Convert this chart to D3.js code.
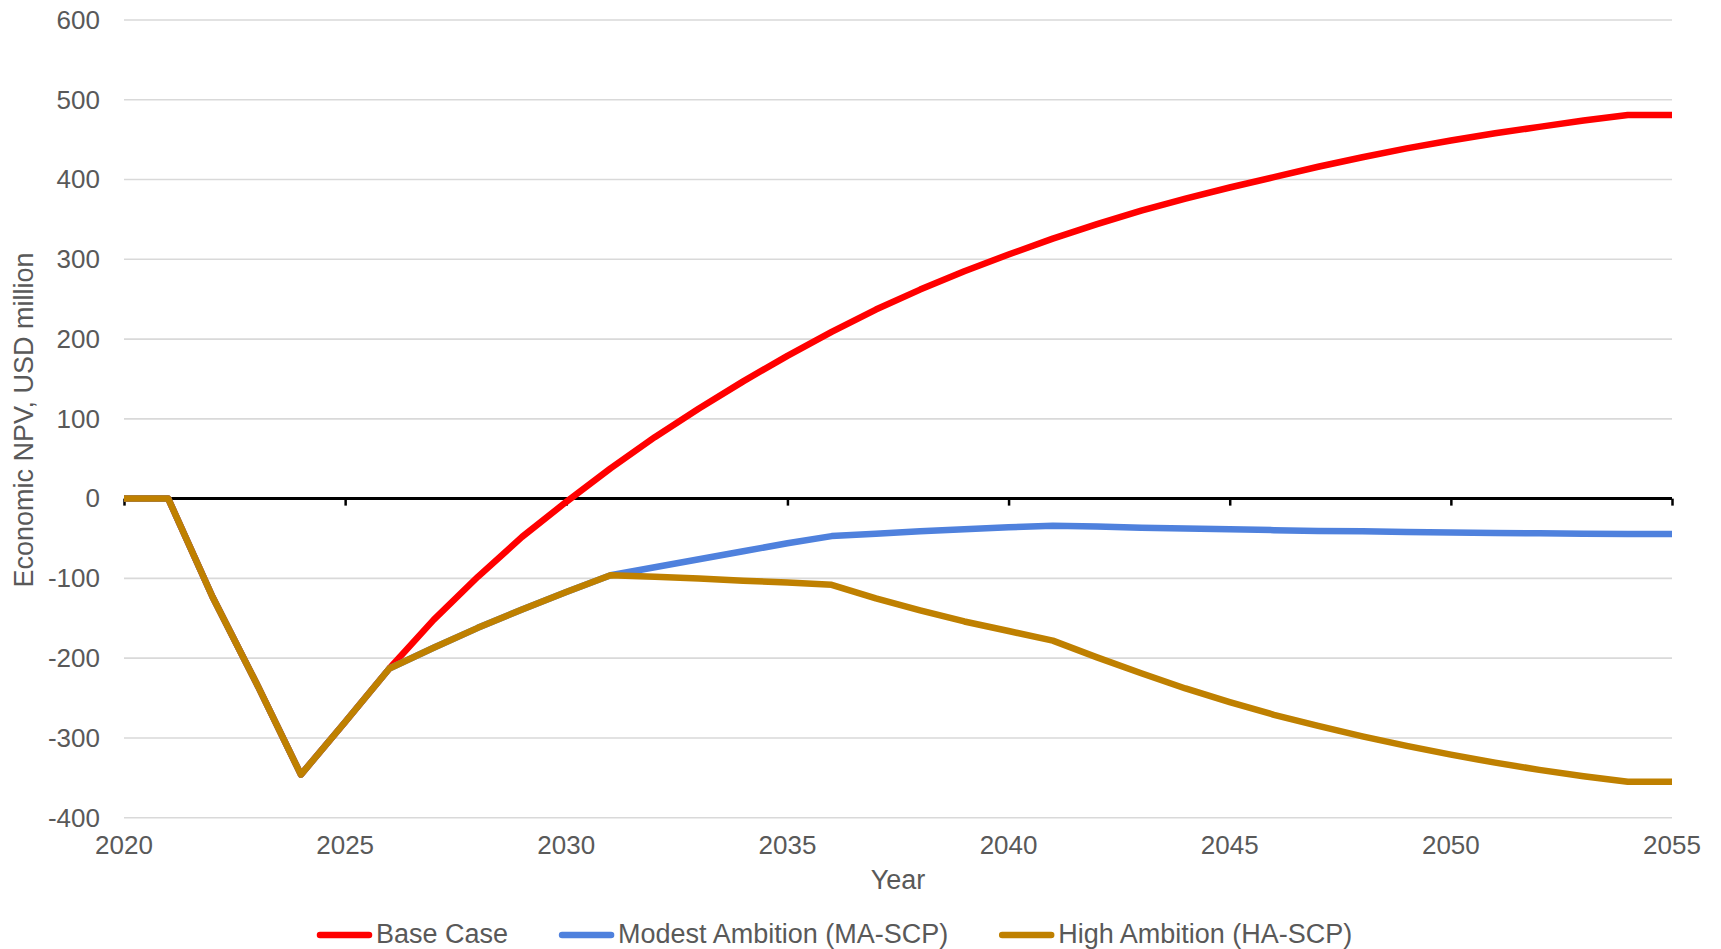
<!DOCTYPE html>
<html>
<head>
<meta charset="utf-8">
<script src="https://cdn.jsdelivr.net/npm/d3@7"></script>
<style>
  html, body { margin: 0; padding: 0; background: #fff; }
  svg { display: block; font-family: "Liberation Sans", Arial, sans-serif; }
</style>
</head>
<body>
<svg id="chart" width="1721" height="949"></svg>
<script>
// Economic NPV (USD million) by year for three scenarios
const years = d3.range(2020, 2056);

const baseCase = [
  0, 0, -123, -232, -346, -280, -213, -152, -98, -48,
  -4, 38, 77, 113, 147, 179, 209, 237, 262, 285,
  306, 326, 344, 361, 376, 390, 403, 416, 428, 439,
  449, 458, 466, 474, 481, 481
];

const modestAmbition = [
  0, 0, -123, -232, -346, -280, -213, -187, -162, -139,
  -117, -96, -86, -76, -66, -56, -47, -44, -41, -38.5,
  -36, -34, -35, -36.5, -37.5, -38.5, -39.5, -40.5, -41, -42,
  -42.5, -43, -43.5, -44, -44.5, -44.5
];

const highAmbition = [
  0, 0, -123, -232, -346, -280, -213, -187, -162, -139,
  -117, -96, -98, -100, -103, -105, -108, -125, -140, -154,
  -166, -178, -199, -219, -238, -255, -271, -285, -298, -310,
  -321, -331, -340, -348, -355, -355
];

const seriesNames = ["Base Case", "Modest Ambition (MA-SCP)", "High Ambition (HA-SCP)"];
const seriesColors = ["#ff0000", "#4f81dd", "#bf8000"];
const seriesValues = [baseCase, modestAmbition, highAmbition];

const yTicks = [-400, -300, -200, -100, 0, 100, 200, 300, 400, 500, 600];
const xTicks = [2020, 2025, 2030, 2035, 2040, 2045, 2050, 2055];

const svg = d3.select("#chart");
const textColor = "#595959";
const tickFont = 26;
const titleFont = 27;

const x = d3.scaleLinear().domain([2020, 2055]).range([124, 1672]);
const y = d3.scaleLinear().domain([-400, 600]).range([817.7, 20]);

// horizontal gridlines
svg.append("g")
  .selectAll("line")
  .data(yTicks.filter(d => d !== 0))
  .join("line")
  .attr("x1", x(2020)).attr("x2", x(2055))
  .attr("y1", d => y(d)).attr("y2", d => y(d))
  .attr("stroke", "#d9d9d9")
  .attr("stroke-width", 1.6);

// y-axis labels (plain hyphen for negatives)
const yAxis = d3.axisLeft(y).tickValues(yTicks).tickSize(0).tickPadding(0)
  .tickFormat(d => String(d));
const yg = svg.append("g").attr("transform", `translate(100,0)`).call(yAxis);
yg.select(".domain").remove();
yg.selectAll("text")
  .attr("fill", textColor)
  .style("font-size", tickFont + "px")
  .style("font-family", '"Liberation Sans", Arial, sans-serif');

// zero line with year ticks
const xAxis = d3.axisBottom(x).tickValues(xTicks).tickSize(7).tickFormat("");
const xg = svg.append("g").attr("transform", `translate(0,${y(0)})`).call(xAxis);
xg.select(".domain").attr("stroke", "#000").attr("stroke-width", 3)
  .attr("d", `M${x(2020)},0H${x(2055)}`);
xg.selectAll(".tick line").attr("stroke", "#000").attr("stroke-width", 2.5);

// x-axis labels along the bottom of the plot
svg.append("g")
  .selectAll("text")
  .data(xTicks)
  .join("text")
  .attr("x", d => x(d))
  .attr("y", 854)
  .attr("text-anchor", "middle")
  .attr("fill", textColor)
  .style("font-size", tickFont + "px")
  .text(d => d);

// axis titles
svg.append("text")
  .attr("transform", `translate(24,420) rotate(-90)`)
  .attr("text-anchor", "middle")
  .attr("dominant-baseline", "central")
  .attr("fill", textColor)
  .style("font-size", titleFont + "px")
  .text("Economic NPV, USD million");

svg.append("text")
  .attr("x", x(2037.5))
  .attr("y", 889)
  .attr("text-anchor", "middle")
  .attr("fill", textColor)
  .style("font-size", titleFont + "px")
  .text("Year");

// series lines
const line = d3.line()
  .x((d, i) => x(years[i]))
  .y(d => y(d));

svg.append("g")
  .selectAll("path")
  .data(seriesValues)
  .join("path")
  .attr("d", d => line(d))
  .attr("fill", "none")
  .attr("stroke", (d, i) => seriesColors[i])
  .attr("stroke-width", 6.5)
  .attr("stroke-linejoin", "round")
  .attr("stroke-linecap", "butt");

// legend
const legend = svg.append("g");
let lx = 320;
const ly = 935;
seriesNames.forEach((name, i) => {
  legend.append("line")
    .attr("x1", lx).attr("x2", lx + 49)
    .attr("y1", ly).attr("y2", ly)
    .attr("stroke", seriesColors[i])
    .attr("stroke-width", 6.5)
    .attr("stroke-linecap", "round");
  const t = legend.append("text")
    .attr("x", lx + 56)
    .attr("y", ly + 8)
    .attr("fill", textColor)
    .style("font-size", titleFont + "px")
    .text(name);
  lx += 56 + t.node().getComputedTextLength() + 54;
});
</script>
</body>
</html>
